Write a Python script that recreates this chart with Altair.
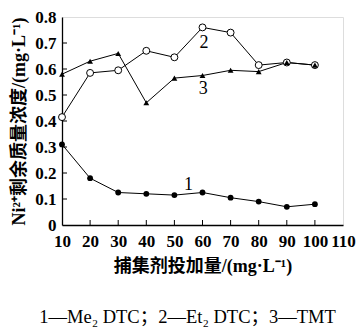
import altair as alt
import pandas as pd

dose = [10, 20, 30, 40, 50, 60, 70, 80, 90, 100]
s1 = [0.31, 0.18, 0.125, 0.12, 0.115, 0.125, 0.105, 0.09, 0.07, 0.08]   # Me2DTC
s2 = [0.415, 0.585, 0.595, 0.67, 0.645, 0.76, 0.74, 0.615, 0.625, 0.615]  # Et2DTC
s3 = [0.58, 0.63, 0.66, 0.47, 0.565, 0.575, 0.595, 0.59, 0.625, 0.615]  # TMT

x_ticks = [10, 20, 30, 40, 50, 60, 70, 80, 90, 100, 110]
y_ticks = [0, 0.1, 0.2, 0.3, 0.4, 0.5, 0.6, 0.7, 0.8]

lbl_text = ["1", "2", "3"]
lbl_x = [55, 60.5, 60.3]
lbl_y = [0.155, 0.70, 0.525]

x_title = "捕集剂投加量/(mg·L⁻¹)"
y_title = "Ni²⁺剩余质量浓度/(mg·L⁻¹)"
caption = "1—Me₂ DTC；2—Et₂ DTC；3—TMT"

W, H = 281, 208
SERIF = "Liberation Serif"
MIXED = "Liberation Serif, Noto Sans CJK SC"

d1 = pd.DataFrame({"x": dose, "y": s1})
d2 = pd.DataFrame({"x": dose, "y": s2})
d3 = pd.DataFrame({"x": dose, "y": s3})
dl = pd.DataFrame({"x": lbl_x, "y": lbl_y, "t": lbl_text})
dxt = pd.DataFrame({"x": x_ticks[1:-1]})
dyt = pd.DataFrame({"y": y_ticks[1:-1]})

xs = alt.Scale(domain=[10, 110], nice=False, zero=False)
ys = alt.Scale(domain=[0, 0.8], nice=False)

xax = alt.Axis(values=x_ticks, tickSize=0, grid=False, labelFont=SERIF, labelFontSize=17,
               labelFontWeight="bold", labelColor="black", labelPadding=8,
               labelOverlap=False, labelFlush=False, labelBound=False,
               title=x_title, titleFont=MIXED, titleFontSize=18, titleFontWeight="bold",
               titleColor="black", titlePadding=8, domainColor="black", domainWidth=1.3)
yax = alt.Axis(values=y_ticks, tickSize=0, grid=False, labelFont=SERIF, labelFontSize=17,
               labelFontWeight="bold", labelColor="black", labelPadding=6,
               labelExpr="datum.value == 0 ? '0' : format(datum.value, '.1f')",
               labelOverlap=False, labelFlush=False, labelBound=False,
               title=y_title, titleFont=MIXED, titleFontSize=18, titleFontWeight="bold",
               titleColor="black", titlePadding=6, domainColor="black", domainWidth=1.3)

X = alt.X("x:Q", scale=xs, axis=xax)
Y = alt.Y("y:Q", scale=ys, axis=yax)

def line(d):
    return alt.Chart(d).mark_line(color="black", strokeWidth=1).encode(x=X, y=Y)

p1 = alt.Chart(d1).mark_point(shape="circle", filled=True, color="black", size=34, opacity=1).encode(x=X, y=Y)
p2 = alt.Chart(d2).mark_point(shape="circle", filled=True, fill="white", stroke="black",
                              strokeWidth=1, size=48, opacity=1).encode(x=X, y=Y)
p3 = alt.Chart(d3).mark_point(shape="triangle-up", filled=True, color="black", size=34, opacity=1).encode(x=X, y=Y)

labels = alt.Chart(dl).mark_text(font=SERIF, fontSize=18, color="black").encode(
    x=X, y=Y, text="t:N")

xticks = alt.Chart(dxt).mark_rule(color="black", strokeWidth=1).encode(
    x=X, y=alt.value(H), y2=alt.value(H - 5))
yticks = alt.Chart(dyt).mark_rule(color="black", strokeWidth=1).encode(
    y=Y, x=alt.value(0), x2=alt.value(5))

chart = alt.layer(line(d1), p1, line(d2), line(d3), p2, p3, labels, xticks, yticks).properties(
    width=W, height=H,
    autosize=alt.AutoSizeParams(type="none"),
    padding={"left": 54, "top": 9, "right": 13, "bottom": 104},
    title=alt.Title(caption, orient="bottom", anchor="middle", font=MIXED, fontSize=18.5,
                    fontWeight="normal", color="black", offset=33, dx=-15),
).configure_view(stroke="black", strokeWidth=1.3).configure(background="white", font=SERIF)

chart.save("out.html", embed_options={"renderer": "svg", "actions": False})
